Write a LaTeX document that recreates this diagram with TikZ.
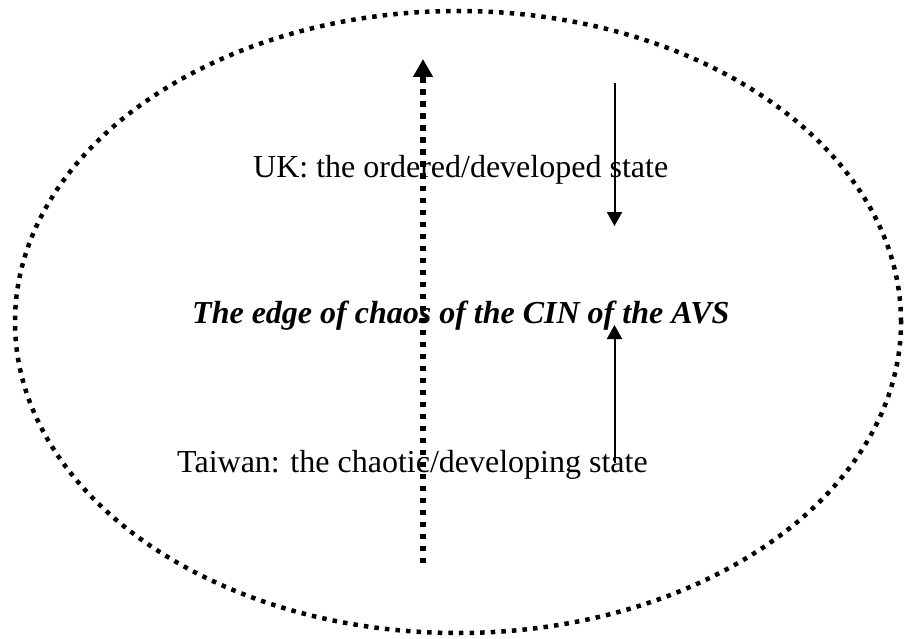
\documentclass[tikz,border=0pt]{standalone}
\usepackage{fontspec}
\setmainfont{Liberation Serif}
\usetikzlibrary{arrows.meta}

\tikzset{
  boundary/.style={line width=4.5pt, dash pattern=on 4.5pt off 6.1pt, line cap=butt},
  dotarrow/.style={line width=5.5pt, dash pattern=on 5.5pt off 6.5pt, line cap=butt,
                   -{Triangle[length=18pt,width=19pt]}},
  thinarrow/.style={line width=2pt, -{Triangle[length=14pt,width=15pt]}},
  statelabel/.style={inner sep=0pt, anchor=base west, font=\fontsize{32}{38}\selectfont},
  edgelabel/.style={inner sep=0pt, anchor=base west, font=\fontsize{32}{38}\selectfont\bfseries\itshape}
}

\begin{document}
\begin{tikzpicture}[x=1pt,y=-1pt]
  \useasboundingbox (0,0) rectangle (904,639);

  % dotted oval enclosing the whole system
  \draw[boundary] (458,322) ellipse [x radius=443pt, y radius=311pt];

  % labels
  \node[statelabel] (uk) at (253,178) {UK: the ordered/developed state};
  \node[edgelabel] (edge) at (192,323) {The edge of chaos of the CIN of the AVS};
  \node[statelabel] (tw) at (177,472) {Taiwan: the chaotic/developing state};

  % long dotted arrow (development direction)
  \coordinate (devstart) at (423,563);
  \coordinate (devend) at (423,59);
  \draw[dotarrow] (devstart) -- (devend);

  % thin arrows converging on the edge of chaos
  \coordinate (ordtop) at (614.5,83);
  \coordinate (ordtip) at (614.5,226);
  \coordinate (chabot) at (614.5,463);
  \coordinate (chatip) at (614.5,325);
  \draw[thinarrow] (ordtop) -- (ordtip);
  \draw[thinarrow] (chabot) -- (chatip);
\end{tikzpicture}
\end{document}
